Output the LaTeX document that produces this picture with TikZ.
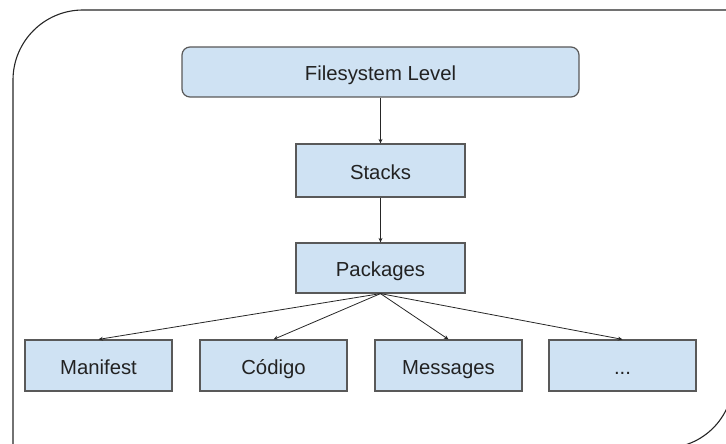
\documentclass[tikz,border=0pt]{standalone}
\usepackage{fontspec}
\setmainfont{Liberation Sans}
\usetikzlibrary{arrows.meta}

\definecolor{boxfill}{HTML}{CFE2F3}
\definecolor{boxline}{HTML}{595959}
\definecolor{txt}{HTML}{222222}

\tikzset{
    level/.style={draw=boxline, line width=1.2pt, fill=boxfill, text=txt, inner sep=0pt,
        text height=17.5pt, text depth=0pt, font=\fontsize{20.3}{22}\selectfont},
    edge/.style={-{Stealth[length=4.5pt,width=4pt]}, line width=0.8pt, draw=black!85},
}

\begin{document}
\begin{tikzpicture}[x=1pt,y=-1pt]
    \useasboundingbox (0,0) rectangle (726,444);
    \clip (0,0) rectangle (726,444);

    % outer frame, two round corners
    \draw[line width=1.1pt, black!85] (13,460) -- (13,80) arc[start angle=180, end angle=270, radius=70] -- (740,10);
    \draw[line width=1.1pt, black!85] (733,330) -- (733,380) arc[start angle=0, end angle=90, radius=68] -- (600,448);

    % the levels
    \node[level, rounded corners=8pt, minimum width=397pt, minimum height=50pt] (fs) at (380.5,72) {Filesystem Level};
    \node[level, minimum width=169pt, minimum height=53pt] (stacks) at (380.5,170.5) {Stacks};
    \node[level, minimum width=169pt, minimum height=50pt] (pkgs) at (380.5,268) {Packages};

    \node[level, minimum width=147pt, minimum height=51pt] (manifest) at (98.5,365.5) {Manifest};
    \node[level, minimum width=147pt, minimum height=51pt] (code) at (273.5,365.5) {Código};
    \node[level, minimum width=147pt, minimum height=51pt] (msgs) at (448.5,365.5) {Messages};
    \node[level, minimum width=147pt, minimum height=51pt] (more) at (622.5,365.5) {...};

    % the arrows
    \draw[edge] (fs) -- (stacks);
    \draw[edge] (stacks) -- (pkgs);

    \draw[edge] (pkgs.south) -- (manifest.north);
    \draw[edge] (pkgs.south) -- (code.north);
    \draw[edge] (pkgs.south) -- (msgs.north);
    \draw[edge] (pkgs.south) -- (more.north);
\end{tikzpicture}
\end{document}
